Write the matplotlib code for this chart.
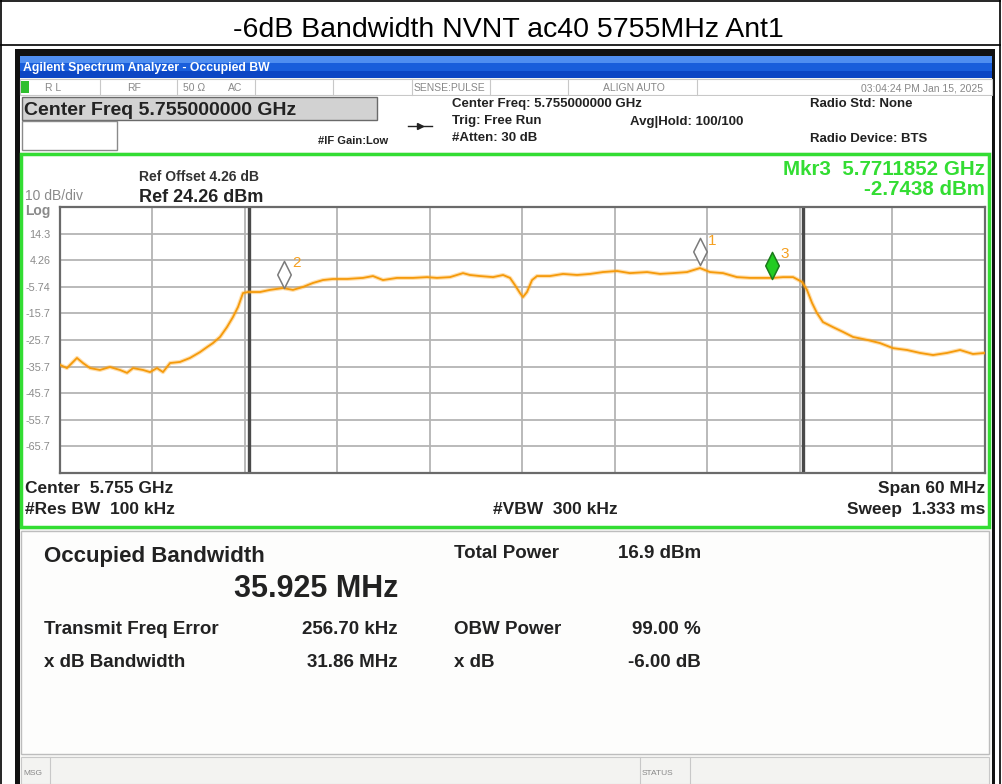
import matplotlib
matplotlib.use("Agg")
import matplotlib.pyplot as plt
from matplotlib.patches import Rectangle
from matplotlib.path import Path

plt.rcParams['font.family'] = ['Liberation Sans', 'DejaVu Sans']

TITLE = "-6dB Bandwidth NVNT ac40 5755MHz Ant1"

# trace: frequency (MHz) and level (dBm)
FREQ_MHZ = [5725.0, 5725.45, 5726.10, 5726.49, 5726.95, 5727.59, 5728.24, 5728.89, 5729.35, 5729.74,
            5730.38, 5730.84, 5731.29, 5731.68, 5732.14, 5732.78, 5733.43, 5734.08, 5734.54, 5734.92,
            5735.38, 5735.83, 5736.22, 5736.55, 5736.87, 5737.19, 5737.97, 5738.62, 5739.46, 5740.11,
            5740.76, 5741.41, 5742.06, 5742.71, 5743.62, 5744.65, 5745.30, 5745.95, 5746.86, 5747.90,
            5748.81, 5749.45, 5750.30, 5751.14, 5751.59, 5752.24, 5753.09, 5753.74, 5754.19, 5754.51,
            5754.84, 5755.03, 5755.29, 5755.62, 5755.94, 5756.78, 5757.63, 5758.54, 5759.38, 5760.22,
            5761.13, 5761.97, 5763.08, 5763.92, 5764.76, 5765.67, 5766.51, 5767.16, 5768.01, 5768.91,
            5769.76, 5770.60, 5771.25, 5771.90, 5772.55, 5773.13, 5773.45, 5773.78, 5774.10, 5774.49,
            5775.14, 5775.79, 5776.44, 5777.35, 5778.19, 5779.03, 5779.94, 5780.78, 5781.63, 5782.54,
            5783.38, 5784.22, 5785.0]
LEVEL_DBM = [-35.1, -36.3, -32.5, -34.4, -36.3, -37.0, -35.9, -37.0, -38.1, -36.3,
             -37.0, -37.8, -36.3, -37.8, -34.4, -34.0, -32.5, -30.3, -28.4, -26.9,
             -24.6, -20.9, -17.1, -13.3, -8.1, -7.7, -7.7, -6.9, -6.2, -6.9,
             -5.8, -4.3, -3.2, -2.8, -2.8, -2.4, -1.7, -3.2, -2.4, -2.4,
             -2.1, -2.4, -2.1, -0.6, -1.3, -1.7, -2.1, -1.3, -2.4, -5.1,
             -8.1, -9.6, -7.7, -3.2, -1.7, -1.7, -0.9, -1.3, -0.9, -0.2,
             0.2, -0.6, -0.2, -0.9, -0.6, -0.2, 1.3, -0.2, -0.6, -2.1,
             -2.4, -2.4, -2.4, -2.1, -2.1, -3.9, -6.9, -11.8, -15.6, -19.0,
             -20.9, -22.7, -24.6, -25.7, -26.9, -28.8, -29.5, -30.6, -31.4, -30.6,
             -29.5, -31.0, -30.6]

MARKER_IDS = ["1", "2", "3"]
MARKER_FREQ = [5766.5, 5739.5, 5771.1852]
MARKER_LEVEL = [2.3, -6.2, -2.7438]
MARKER_ACTIVE = [False, False, True]

OBW_EDGES = [5737.29, 5773.22]   # occupied bandwidth limits (MHz)
REF_LEVEL = 24.26
DB_PER_DIV = 10
SPAN = (5725.0, 5785.0)
YTICK_LABELS = ["14.3", "4.26", "-5.74", "-15.7", "-25.7", "-35.7", "-45.7", "-55.7", "-65.7"]

RESULT_LEFT = [("Transmit Freq Error", "256.70 kHz"), ("x dB Bandwidth", "31.86 MHz")]
RESULT_RIGHT = [("Total Power", "16.9 dBm"), ("OBW Power", "99.00 %"), ("x dB", "-6.00 dB")]

W, H = 1002, 784
fig = plt.figure(figsize=(W / 100, H / 100), dpi=100)
bg = fig.add_axes([0, 0, 1, 1])
bg.set_xlim(0, W)
bg.set_ylim(H, 0)
bg.axis("off")

def box(x0, y0, x1, y1, fc="none", ec="none", lw=1.0, z=1):
    bg.add_patch(Rectangle((x0, y0), x1 - x0, y1 - y0, facecolor=fc,
                           edgecolor=ec, lw=lw, zorder=z))

def txt(x, y, s, size=8, weight="bold", color="#222222", ha="left", **kw):
    bg.text(x, y, s, fontsize=size, fontweight=weight, color=color, ha=ha,
            va="baseline", **kw)

# report table cell
bg.plot([1, 1], [0, H], color="black", lw=1.2)
bg.plot([1000, 1000], [0, H], color="black", lw=1.2)
bg.plot([1, 1000], [1, 1], color="black", lw=1.2)
bg.plot([1, 1000], [45, 45], color="black", lw=1.2)
txt(508, 37, TITLE, size=20.5, weight="normal", color="black", ha="center")

# analyser screenshot frame
box(15, 49, 995, H, fc="#111111", z=1)
box(20, 56, 992, H, fc="#f7f7f5", z=1.1)
# blue window title bar (vertical gradient)
grad = [[0.0], [0.5], [1.0]]
bg.imshow(grad, extent=(20, 992, 78, 56), cmap=matplotlib.colors.LinearSegmentedColormap.from_list(
    "bar", ["#4f8ef0", "#1a5fdc", "#0c46c4"]), aspect="auto", zorder=1.2)
txt(23, 71, "Agilent Spectrum Analyzer - Occupied BW", size=8.8, color="white")

# status row
box(20, 79, 992, 95, fc="white", ec="#c8c8c8", lw=0.8, z=1.3)
for xd in [100, 177, 255, 333, 412, 490, 568, 697]:
    bg.plot([xd, xd], [79, 95], color="#c8c8c8", lw=0.8, zorder=1.4)
box(21, 81, 29, 93, fc="#2fbf2f", z=1.4)
for x, s in [(45, "R L"), (127, "RF"), (183, "50 \u03a9"), (228, "AC"),
             (414, "SENSE:PULSE"), (603, "ALIGN AUTO")]:
    txt(x, 91, s, size=7.5, weight="normal", color="#888888")
txt(983, 91, "03:04:24 PM Jan 15, 2025", size=7.5, weight="normal", color="#888888", ha="right")

# settings header
box(20, 96, 992, 152, fc="white", z=1.3)
box(22, 97, 377, 120, fc="#d2d2d2", ec="#6a6a6a", lw=1.0, z=1.4)
txt(24, 115, "Center Freq 5.755000000 GHz", size=14)
box(22, 121, 117, 150, fc="white", ec="#8a8a8a", lw=1.0, z=1.4)
txt(318, 144, "#IF Gain:Low", size=8)
bg.plot([408, 432], [126, 126], color="#222222", lw=1.0, zorder=2)
bg.plot([420], [126], marker=">", ms=4, color="#222222", zorder=2)
txt(452, 107, "Center Freq: 5.755000000 GHz", size=9.5)
txt(452, 124, "Trig: Free Run", size=9.5)
txt(452, 141, "#Atten: 30 dB", size=9.5)
txt(630, 125, "Avg|Hold: 100/100", size=9.5)
txt(810, 107, "Radio Std: None", size=9.5)
txt(810, 142, "Radio Device: BTS", size=9.5)

# green measurement frame
box(21, 154, 989, 527, fc="white", ec="#33dd33", lw=2.5, z=1.3)
txt(139, 181, "Ref Offset 4.26 dB", size=10, color="#333333")
txt(139, 202, "Ref 24.26 dBm", size=13)
txt(25, 200, "10 dB/div", size=10, weight="normal", color="#8a8a8a")
txt(25, 215, "Log", size=10, color="#8a8a8a")
txt(985, 175, "Mkr3  5.7711852 GHz", size=14.8, color="#33dd33", ha="right")
txt(985, 195, "-2.7438 dBm", size=14.8, color="#33dd33", ha="right")
txt(25, 493, "Center  5.755 GHz", size=12.5)
txt(25, 514, "#Res BW  100 kHz", size=12.5)
txt(555, 514, "#VBW  300 kHz", size=12.5, ha="center")
txt(985, 493, "Span 60 MHz", size=12.5, ha="right")
txt(985, 514, "Sweep  1.333 ms", size=12.5, ha="right")

# results panel
box(21, 531, 989, 754, fc="#fdfdfc", ec="#bdbdbd", lw=1.0, z=1.3)
txt(44, 562, "Occupied Bandwidth", size=16)
txt(398, 597, "35.925 MHz", size=22, ha="right")
for i, (lab, val) in enumerate(RESULT_LEFT):
    yb = 634 + 33 * i
    txt(44, yb, lab, size=13.5)
    txt(398, yb, val, size=13.5, ha="right")
for (lab, val), yb in zip(RESULT_RIGHT, [558, 634, 667]):
    txt(454, yb, lab, size=13.5)
    txt(701, yb, val, size=13.5, ha="right")

# message bar
box(21, 757, 989, H, fc="#f3f3f1", ec="#c8c8c8", lw=0.8, z=1.3)
for xd in [50, 640, 690]:
    bg.plot([xd, xd], [757, H], color="#c8c8c8", lw=0.8, zorder=1.4)
txt(23, 775, "MSG", size=6, weight="normal", color="#888888")
txt(642, 775, "STATUS", size=6, weight="normal", color="#888888")

# spectrum graticule
ax = fig.add_axes([60 / W, (H - 473) / H, 925 / W, 266 / H])
ax.set_zorder(3)
ax.set_facecolor("white")
ylo = REF_LEVEL - 10 * DB_PER_DIV
ax.set_xlim(*SPAN)
ax.set_ylim(ylo, REF_LEVEL)
xt = [SPAN[0] + k * (SPAN[1] - SPAN[0]) / 10 for k in range(11)]
yt = [REF_LEVEL - k * DB_PER_DIV for k in range(11)]
ax.set_xticks(xt)
ax.set_yticks(yt)
ax.set_xticklabels([])
ax.set_yticklabels([""] + YTICK_LABELS + [""], fontsize=7.8, color="#8a8a8a")
ax.tick_params(length=0, pad=7)
ax.grid(True, color="#b4b4b4", lw=1.3)
for s in ax.spines.values():
    s.set_color("#6a6a6a")
    s.set_linewidth(1.6)

for f in OBW_EDGES:
    ax.axvline(f, color="#4a4a4a", lw=2.4, zorder=2)

ax.plot(FREQ_MHZ, LEVEL_DBM, color="#ffa61a", lw=3.0, alpha=0.35, zorder=3)
ax.plot(FREQ_MHZ, LEVEL_DBM, color="#f59a0a", lw=1.3, zorder=3.1)

diamond = Path([(0, 0), (0.5, 1), (0, 2), (-0.5, 1), (0, 0)],
               [Path.MOVETO, Path.LINETO, Path.LINETO, Path.LINETO, Path.CLOSEPOLY])
for mid, mf, ml, act in zip(MARKER_IDS, MARKER_FREQ, MARKER_LEVEL, MARKER_ACTIVE):
    ax.plot([mf], [ml], marker=diamond, ms=39, ls="none",
            mfc="#22cc22" if act else "white",
            mec="#1a7a1a" if act else "#7a7a7a", mew=1.1, zorder=4)
    ax.annotate(mid, (mf, ml), xytext=(6, 15), textcoords="offset points",
                color="#f5a020", fontsize=11, zorder=5)

fig.savefig("out.png", dpi=100)
